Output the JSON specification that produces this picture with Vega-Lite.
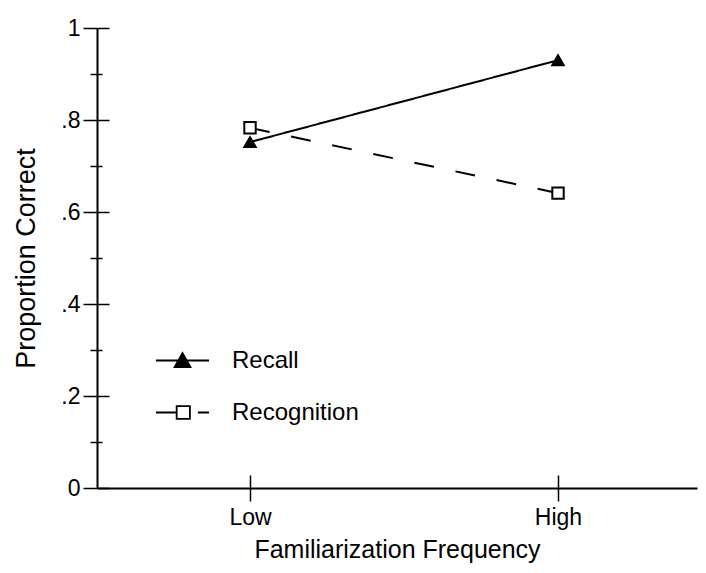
{
  "$schema": "https://vega.github.io/schema/vega-lite/v6.json",
  "width": 600,
  "height": 460,
  "autosize": {"type": "none"},
  "padding": {"left": 97, "top": 28, "right": 9, "bottom": 85},
  "background": "white",
  "config": {
    "view": {"stroke": null},
    "font": "Liberation Sans",
    "axis": {
      "grid": false,
      "domainColor": "black",
      "domainWidth": 2,
      "tickColor": "black",
      "tickWidth": 1.5,
      "labelColor": "black",
      "titleColor": "black",
      "labelFont": "Liberation Sans",
      "titleFont": "Liberation Sans",
      "labelFontSize": 23,
      "titleFontSize": 25,
      "titleFontWeight": "normal"
    },
    "legend": {
      "labelFont": "Liberation Sans",
      "labelFontSize": 24,
      "labelColor": "black",
      "padding": 0,
      "symbolStrokeColor": "black",
      "symbolStrokeWidth": 1.8,
      "symbolOpacity": 1
    }
  },
  "data": {
    "values": [
      {"freq": "Low", "condition": "Recall", "p": 0.752},
      {"freq": "High", "condition": "Recall", "p": 0.93},
      {"freq": "Low", "condition": "Recognition", "p": 0.783},
      {"freq": "High", "condition": "Recognition", "p": 0.641}
    ]
  },
  "layer": [
    {
      "mark": {"type": "line", "color": "black", "strokeWidth": 2},
      "encoding": {
        "x": {
          "field": "freq", "type": "ordinal", "sort": ["Low", "High"],
          "scale": {"type": "point", "padding": 0.474, "align": 0.524},
          "axis": {"title": "Familiarization Frequency", "labelAngle": 0, "tickSize": 13, "labelPadding": 5, "titlePadding": 8}
        },
        "y": {
          "field": "p", "type": "quantitative",
          "scale": {"domain": [0, 1], "nice": false},
          "axis": {
            "title": "Proportion Correct",
            "titleFontSize": 27,
            "values": [0, 0.2, 0.4, 0.6, 0.8, 1],
            "labelExpr": "datum.value == 0 ? '0' : datum.value == 1 ? '1' : replace(format(datum.value, '.1f'), '0.', '.')",
            "tickSize": 14,
            "labelPadding": 3,
            "titlePadding": 20
          }
        },
        "strokeDash": {
          "field": "condition", "type": "nominal",
          "scale": {"domain": ["Recall", "Recognition"], "range": [[1, 0], [20, 22]]},
          "legend": null
        }
      }
    },
    {
      "mark": {"type": "point", "filled": true, "stroke": "black", "strokeWidth": 2, "size": 130, "opacity": 1},
      "encoding": {
        "x": {
          "field": "freq", "type": "ordinal", "sort": ["Low", "High"],
          "axis": {"orient": "bottom", "tickSize": -13, "labels": false, "domain": false, "title": null}
        },
        "y": {
          "field": "p", "type": "quantitative",
          "axis": {"orient": "left", "values": [0, 0.2, 0.4, 0.6, 0.8, 1], "tickSize": -12, "labels": false, "domain": false, "title": null}
        },
        "shape": {
          "field": "condition", "type": "nominal",
          "scale": {"domain": ["Recall", "Recognition"], "range": ["triangle-up", "square"]},
          "legend": null
        },
        "fill": {
          "field": "condition", "type": "nominal",
          "scale": {"domain": ["Recall", "Recognition"], "range": ["black", "white"]},
          "legend": null
        }
      }
    },
    {
      "transform": [{"filter": "datum.p > 2"}],
      "mark": {"type": "point", "filled": true, "strokeWidth": 1.8, "opacity": 1},
      "encoding": {
        "x": {"field": "freq", "type": "ordinal", "sort": ["Low", "High"], "axis": null},
        "y": {
          "field": "p", "type": "quantitative",
          "axis": {"orient": "left", "values": [0.1, 0.3, 0.5, 0.7, 0.9], "tickSize": 7, "labels": false, "domain": false, "title": null}
        },
        "shape": {
          "field": "condition", "type": "nominal",
          "scale": {"domain": ["Recall", "Recognition"], "range": ["M-1,0H1M-0.3,0.25L0,-0.28L0.3,0.25Z", "M-1,0H-0.22M-0.22,-0.24H0.28V0.24H-0.22ZM0.58,0H1"]},
          "legend": {"title": null, "orient": "none", "legendX": 58, "legendY": 305, "symbolSize": 2809, "labelOffset": 22, "rowPadding": 12}
        },
        "fill": {
          "field": "condition", "type": "nominal",
          "scale": {"domain": ["Recall", "Recognition"], "range": ["black", "white"]},
          "legend": {"title": null, "orient": "none", "legendX": 58, "legendY": 305, "symbolSize": 2809, "labelOffset": 22, "rowPadding": 12}
        },
        "stroke": {
          "field": "condition", "type": "nominal",
          "scale": {"domain": ["Recall", "Recognition"], "range": ["black", "black"]},
          "legend": {"title": null, "orient": "none", "legendX": 58, "legendY": 305, "symbolSize": 2809, "labelOffset": 22, "rowPadding": 12}
        }
      }
    },
    {
      "transform": [{"filter": "datum.p > 2"}],
      "mark": {"type": "point"},
      "encoding": {
        "x": {"field": "freq", "type": "ordinal", "sort": ["Low", "High"], "axis": null},
        "y": {
          "field": "p", "type": "quantitative",
          "axis": {"orient": "left", "values": [0.1, 0.3, 0.5, 0.7, 0.9], "tickSize": -5, "labels": false, "domain": false, "title": null}
        }
      }
    }
  ],
  "resolve": {
    "axis": {"x": "independent", "y": "independent"},
    "scale": {"shape": "independent", "fill": "independent", "stroke": "independent"}
  }
}
